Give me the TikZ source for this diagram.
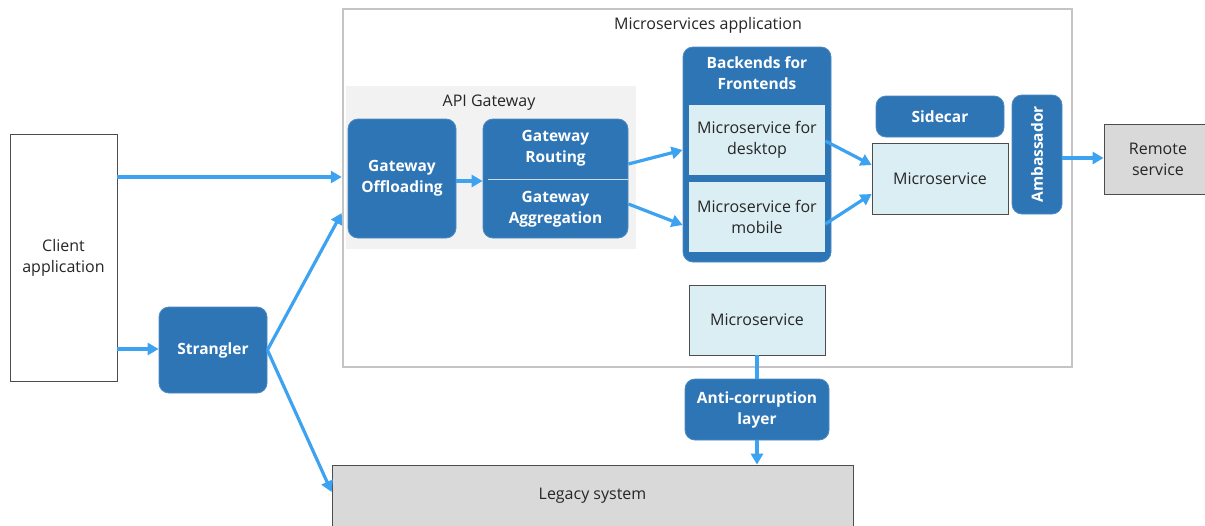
\documentclass[tikz,border=0pt]{standalone}
\usepackage{fontspec}
\setmainfont{Open Sans}
\usetikzlibrary{arrows.meta}
\definecolor{dblue}{HTML}{2E75B6}
\definecolor{lblue}{HTML}{DBEEF4}
\definecolor{arrblue}{HTML}{3DA2EF}
\definecolor{cgray}{HTML}{C4C4C4}
\definecolor{agfill}{HTML}{F2F2F2}
\definecolor{sgray}{HTML}{D9D9D9}
\definecolor{txt}{HTML}{262626}
\definecolor{bord}{HTML}{4D4D4D}
\tikzset{
  base/.style={inner sep=0pt, align=center, font=\fontsize{16}{21}\selectfont},
  bluebox/.style={base, fill=dblue, draw=dblue!85!white, line width=0.8pt, rounded corners=10pt, text=white, font=\fontsize{15.5}{21}\selectfont\bfseries},
  msbox/.style={base, fill=lblue, draw=bord, line width=0.8pt, text=txt},
  whitebox/.style={base, fill=white, draw=bord, line width=0.8pt, text=txt},
  graybox/.style={base, fill=sgray, draw=bord, line width=0.8pt, text=txt},
  lbl/.style={base, text=txt},
  wlbl/.style={base, text=white, font=\fontsize{15.5}{21}\selectfont\bfseries},
  arr/.style={draw=arrblue, line width=3.2pt, -{Triangle[length=11pt,width=12pt]}},
  plain/.style={draw=arrblue, line width=3.2pt},
}
\begin{document}
\begin{tikzpicture}[x=1pt,y=-1pt]
\useasboundingbox (0,0) rectangle (1205,525);
\begin{scope}
\clip (0,0) rectangle (1205,525);
\fill[white] (0,0) rectangle (1205,525);
% containers
\node[draw=cgray, line width=2.5pt, minimum width=729pt, minimum height=358pt, inner sep=0pt] (msapp) at (707.5,188) {};
\node[lbl] (msapptitle) at (708,25) {Microservices application};
\node[fill=agfill, minimum width=290pt, minimum height=163pt, inner sep=0pt] (apigw) at (491,167.5) {};
\node[lbl] (apigwtitle) at (489,102.5) {API Gateway};
% left
\node[whitebox, minimum width=107pt, minimum height=247pt] (client) at (63.5,257.5) {Client\\application};
\node[bluebox, minimum width=108pt, minimum height=86pt] (strangler) at (213,350) {Strangler};
% gateway
\node[bluebox, minimum width=108pt, minimum height=119pt] (off) at (402,178.5) {Gateway\\Offloading};
\node[bluebox, minimum width=145pt, minimum height=119pt] (route) at (555.5,178.5) {};
\node[wlbl] (routelbl) at (555.5,148) {Gateway\\Routing};
\node[wlbl] (agglbl) at (555.5,209) {Gateway\\Aggregation};
\draw[white!75!dblue, line width=1pt] (route.west |- 0,179) ++(5,0) coordinate (divl) -- (route.east |- 0,179) ++(-5,0) coordinate (divr);
% BFF
\node[bluebox, minimum width=148pt, minimum height=215pt] (bff) at (757,154.5) {};
\node[wlbl] (bfflbl) at (757,73.5) {Backends for\\Frontends};
\node[msbox, draw=none, minimum width=136pt, minimum height=70pt] (desk) at (757,140) {Microservice for\\desktop};
\node[msbox, draw=none, minimum width=136pt, minimum height=70pt] (mob) at (757,217) {Microservice for\\mobile};
% right
\node[bluebox, minimum width=128pt, minimum height=41pt] (sidecar) at (940,116.5) {Sidecar};
\node[msbox, minimum width=136pt, minimum height=71pt] (ms) at (940,178.5) {Microservice};
\node[bluebox, minimum width=50pt, minimum height=119pt] (amb) at (1037,154.5) {};
\node[wlbl, rotate=90] (amblbl) at (1037,154.5) {Ambassador};
\node[graybox, minimum width=111pt, minimum height=70pt] (remote) at (1159.5,159) {};
\node[lbl] (remotelbl) at (1158,159) {Remote\\service};
% bottom
\node[msbox, minimum width=136pt, minimum height=70pt] (msb) at (757,320) {Microservice};
\node[bluebox, minimum width=144pt, minimum height=61pt] (acl) at (757,409.5) {Anti-corruption\\layer};
\node[graybox, minimum width=521pt, minimum height=62pt] (legacy) at (592.5,496) {Legacy system};
% connectors
\draw[arr] (client.east |- 0,177) -- (msapp.west |- 0,177);
\draw[arr] (client.east |- 0,349) -- (strangler.west |- 0,349);
\draw[arr] (strangler.east) -- (msapp.west |- 0,213);
\draw[arr] (strangler.east) -- (legacy.west |- 0,492);
\draw[arr] (off.east |- 0,181) -- (route.west |- 0,181);
\draw[arr] (route.east |- 0,164) -- (bff.west |- 0,150);
\draw[arr] (route.east |- 0,204) -- (bff.west |- 0,225);
\draw[arr] (desk.east |- 0,141) -- (ms.west |- 0,165);
\draw[arr] (mob.east |- 0,224) -- (ms.west |- 0,194);
\draw[arr] (amb.east |- 0,158) -- (remote.west |- 0,158);
\draw[plain] (msb.south) -- (acl.north);
\draw[arr] (acl.south) -- (acl.south |- legacy.north);
\end{scope}
\end{tikzpicture}
\end{document}
